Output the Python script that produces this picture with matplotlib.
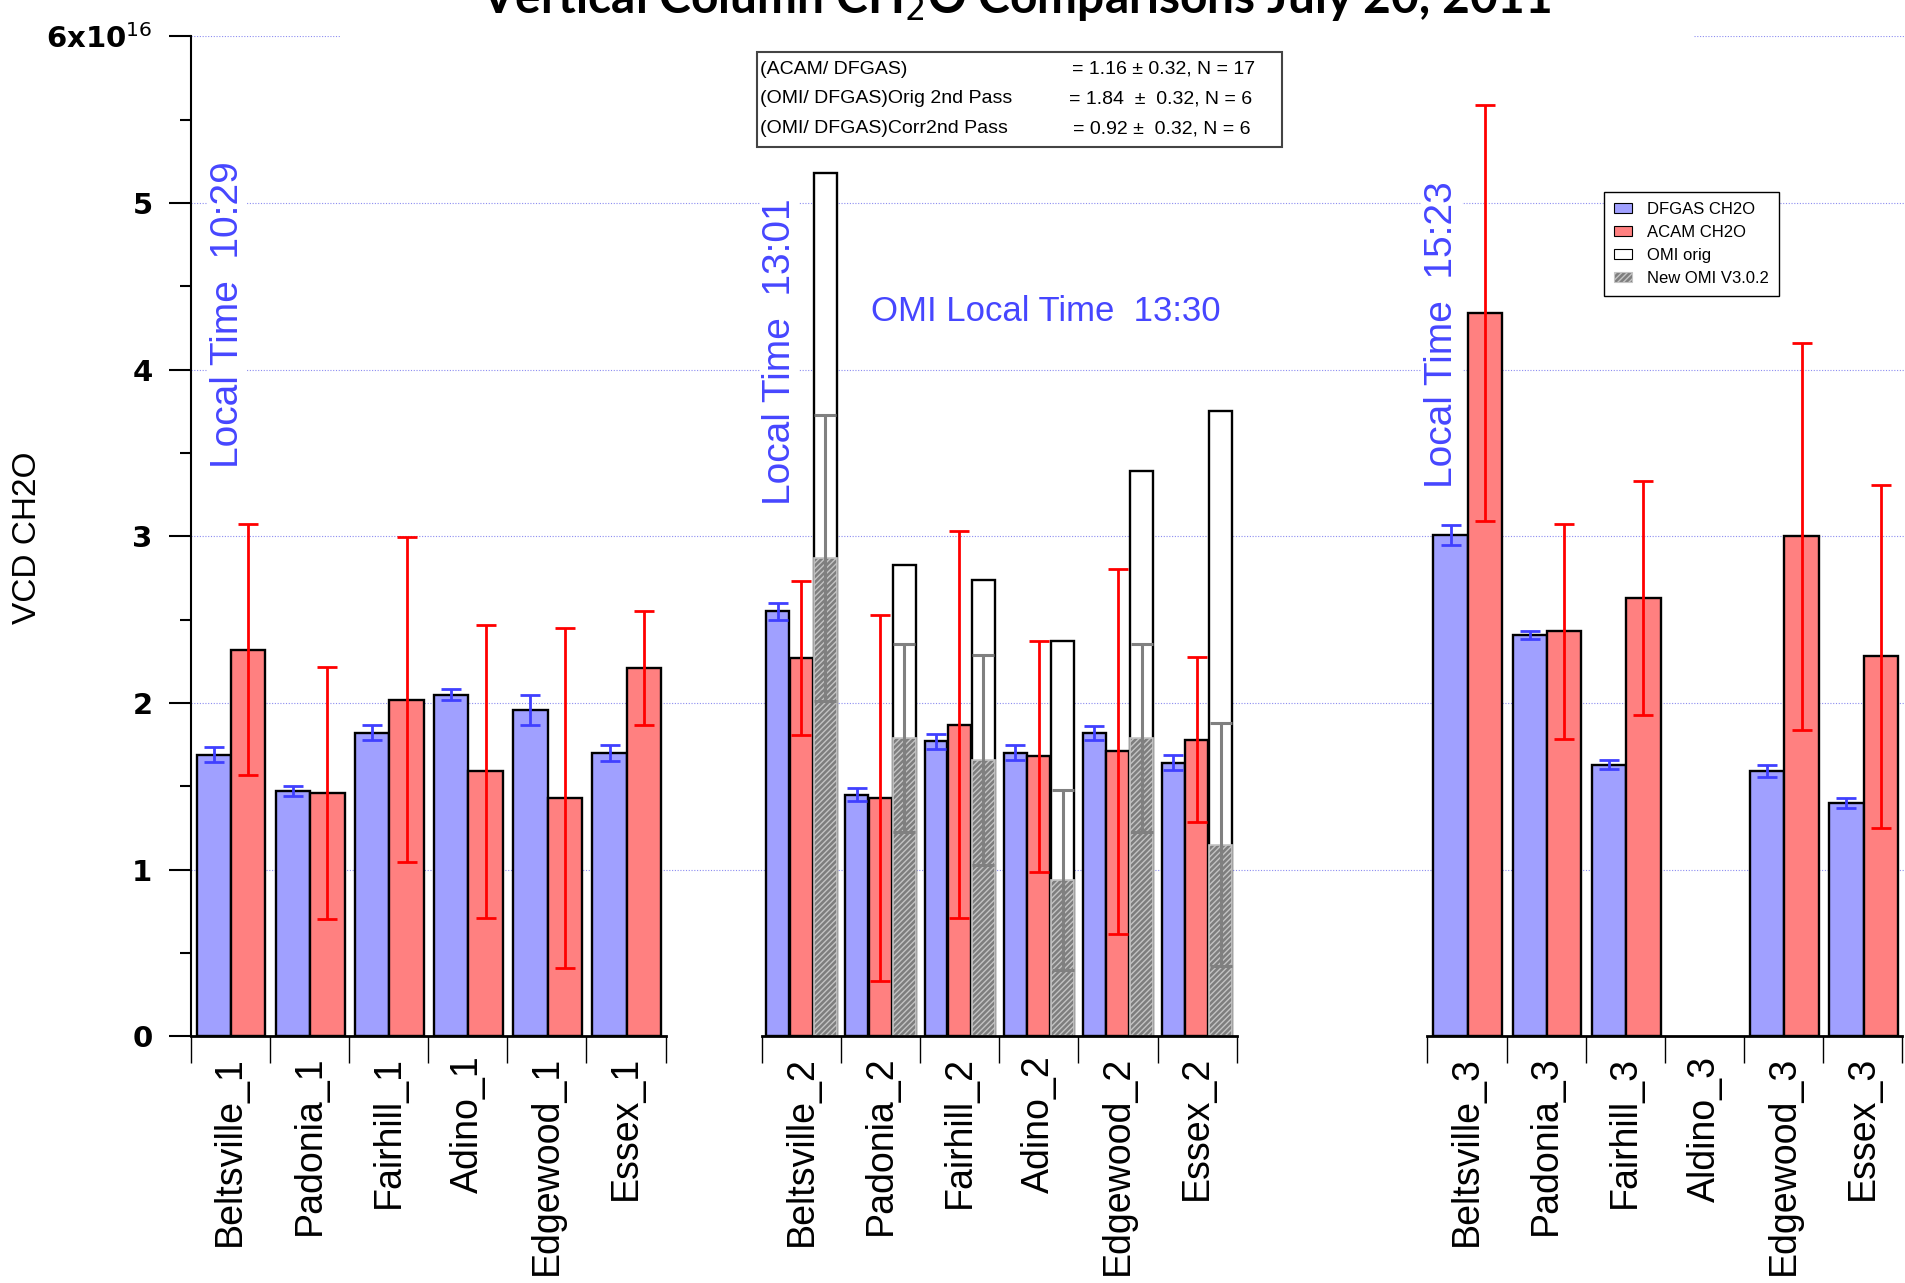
import numpy as np
import matplotlib
matplotlib.use("Agg")
import matplotlib.pyplot as plt
from matplotlib import font_manager
from matplotlib.patches import Patch, Rectangle

# site labels for the three overpass groups
sites_1 = ["Beltsville_1", "Padonia_1", "Fairhill_1", "Adino_1", "Edgewood_1", "Essex_1"]
sites_2 = ["Beltsville_2", "Padonia_2", "Fairhill_2", "Adino_2", "Edgewood_2", "Essex_2"]
sites_3 = ["Beltsville_3", "Padonia_3", "Fairhill_3", "Aldino_3", "Edgewood_3", "Essex_3"]

# VCD CH2O in units of 1e16 molec/cm2
dfgas_1 = [1.69, 1.47, 1.82, 2.05, 1.96, 1.70]
dfgas_1_err = [0.045, 0.03, 0.045, 0.035, 0.09, 0.05]
acam_1 = [2.32, 1.46, 2.02, 1.59, 1.43, 2.21]
acam_1_err = [0.755, 0.755, 0.975, 0.88, 1.02, 0.34]

dfgas_2 = [2.55, 1.45, 1.77, 1.70, 1.82, 1.64]
dfgas_2_err = [0.05, 0.04, 0.045, 0.045, 0.04, 0.045]
acam_2 = [2.27, 1.43, 1.87, 1.68, 1.71, 1.78]
acam_2_err = [0.46, 1.10, 1.16, 0.695, 1.095, 0.495]
omi_orig_2 = [5.18, 2.83, 2.74, 2.37, 3.39, 3.75]
omi_new_2 = [2.87, 1.79, 1.66, 0.94, 1.79, 1.15]
omi_new_2_err = [0.86, 0.565, 0.63, 0.54, 0.565, 0.73]

dfgas_3 = [3.01, 2.41, 1.63, np.nan, 1.59, 1.40]
dfgas_3_err = [0.06, 0.025, 0.026, np.nan, 0.037, 0.03]
acam_3 = [4.34, 2.43, 2.63, np.nan, 3.00, 2.28]
acam_3_err = [1.25, 0.645, 0.70, np.nan, 1.16, 1.03]

stats_names = ["(ACAM/ DFGAS)", "(OMI/ DFGAS)Orig 2nd Pass", "(OMI/ DFGAS)Corr2nd Pass"]
stats_values = ["= 1.16 \u00b1 0.32, N = 17", "= 1.84  \u00b1  0.32, N = 6", "= 0.92 \u00b1  0.32, N = 6"]

BLUE = "#a0a0ff"
RED = "#ff8080"
TXT_BLUE = "#4646ff"
GRID = "#8c8cf0"
HATCH_FACE = "#7e7e7e"
HATCH_EDGE = "#c4c4c4"

names = {f.name for f in font_manager.fontManager.ttflist}
HAVE_NARROW = "Liberation Sans Narrow" in names
NARROW = "Liberation Sans Narrow" if HAVE_NARROW else "Liberation Sans"

plt.rcParams["font.family"] = "Liberation Sans"
plt.rcParams["hatch.linewidth"] = 1.0

fig = plt.figure(figsize=(19.05, 12.83), dpi=100)
ax = fig.add_axes([0.1001, 0.1923, 0.8999, 0.7793])

starts = [0.0, 7.217, 15.626]
ERR = dict(fmt="none", elinewidth=2, capsize=7.5, capthick=2, zorder=4)


def pair_group(start, dfgas, dfgas_err, acam, acam_err):
    base = start + np.arange(6)
    w = 0.435
    ax.bar(base + 0.075, dfgas, w, align="edge", color=BLUE, edgecolor="black", lw=1.7, zorder=2)
    ax.bar(base + 0.51, acam, w, align="edge", color=RED, edgecolor="black", lw=1.7, zorder=2)
    ax.errorbar(base + 0.075 + w / 2, dfgas, yerr=dfgas_err, ecolor="#4040ff", **ERR)
    ax.errorbar(base + 0.51 + w / 2, acam, yerr=acam_err, ecolor="#ff0000", **ERR)


pair_group(starts[0], dfgas_1, dfgas_1_err, acam_1, acam_1_err)
pair_group(starts[2], dfgas_3, dfgas_3_err, acam_3, acam_3_err)

# middle pass also carries the OMI columns
base = starts[1] + np.arange(6)
w3 = 0.29
ax.bar(base + 0.055, dfgas_2, w3, align="edge", color=BLUE, edgecolor="black", lw=1.7, zorder=2)
ax.bar(base + 0.35, acam_2, w3, align="edge", color=RED, edgecolor="black", lw=1.7, zorder=2)
ax.bar(base + 0.655, omi_orig_2, w3, align="edge", color="white", edgecolor="black", lw=1.7, zorder=2)
ax.bar(base + 0.655, omi_new_2, w3, align="edge", color=HATCH_FACE, edgecolor=HATCH_EDGE,
       hatch="//////", lw=1.2, zorder=2.5)
ax.errorbar(base + 0.055 + w3 / 2, dfgas_2, yerr=dfgas_2_err, ecolor="#4040ff", **ERR)
ax.errorbar(base + 0.35 + w3 / 2, acam_2, yerr=acam_2_err, ecolor="#ff0000", **ERR)
ax.errorbar(base + 0.655 + w3 / 2, omi_new_2, yerr=omi_new_2_err, ecolor="#808080",
            fmt="none", elinewidth=2.2, capsize=8, capthick=2.2, zorder=3)

# axes
ax.set_xlim(0, 21.66)
ax.set_ylim(0, 6)
for side in ["top", "right", "bottom"]:
    ax.spines[side].set_visible(False)
ax.spines["left"].set_linewidth(1.5)

for s in starts:
    ax.plot([s, s + 6], [0, 0], color="black", lw=2, clip_on=False, zorder=5)

bounds = np.concatenate([s + np.arange(7) for s in starts])
centers = np.concatenate([s + 0.5 + np.arange(6) for s in starts])
ax.set_xticks(bounds)
ax.set_xticklabels([])
ax.set_xticks(centers, minor=True)
ax.set_xticklabels(sites_1 + sites_2 + sites_3, minor=True, rotation=90, fontsize=27)
ax.tick_params(axis="x", which="major", direction="out", length=19.5, width=1)
ax.tick_params(axis="x", which="minor", length=0, pad=14)

ax.set_yticks(range(7))
ax.set_yticklabels(["0", "1", "2", "3", "4", "5", "6x10$^{16}$"], fontfamily="DejaVu Sans",
                   fontweight="bold", fontsize=21)
ax.set_yticks(np.arange(0.5, 6, 1), minor=True)
ax.tick_params(axis="y", which="major", length=16, width=1.5, pad=11.5)
ax.tick_params(axis="y", which="minor", length=8, width=1.5)

# dotted horizontal grid
for lv in range(1, 6):
    ax.axhline(lv, color=GRID, lw=0.8, ls=(0, (1, 1.5)), zorder=0.5)
ax.axhline(6, xmin=0.0, xmax=0.087, color=GRID, lw=0.8, ls=(0, (1, 1.5)), zorder=0.5)
ax.axhline(6, xmin=0.877, xmax=1.0, color=GRID, lw=0.8, ls=(0, (1, 1.5)), zorder=0.5)

# local time annotations
box = dict(facecolor="white", edgecolor="none", pad=1)
ax.text(0.47, 4.33, "Local Time  10:29", rotation=90, ha="center", va="center",
        color=TXT_BLUE, fontsize=28, bbox=box, zorder=1)
ax.text(7.44, 4.11, "Local Time  13:01", rotation=90, ha="center", va="center",
        color=TXT_BLUE, fontsize=28, bbox=box, zorder=1)
ax.text(15.81, 4.21, "Local Time  15:23", rotation=90, ha="center", va="center",
        color=TXT_BLUE, fontsize=28, bbox=box, zorder=1)
ax.text(10.80, 4.35, "OMI Local Time  13:30", ha="center", va="center",
        color=TXT_BLUE, fontsize=29 if HAVE_NARROW else 25, family=NARROW, zorder=1)

fig.text(0.0142, 0.581, "VCD CH2O", rotation=90, ha="center", va="center", fontsize=24)

fig.text(0.5336, 1 - 13 / 1283, "Vertical Column CH$_2$O Comparisons July 20, 2011",
         ha="center", va="baseline", fontsize=34.5, fontweight="bold", family="Lato")

# ratio summary box
fig.add_artist(Rectangle((0.3974, 0.8854), 0.2756, 0.0741, transform=fig.transFigure,
                         facecolor="white", edgecolor="#444444", lw=1.5, zorder=3))
rows_y = [0.9462, 0.9232, 0.8995]
vals_x = [0.5627, 0.5612, 0.5633]
stat_size = 15 if HAVE_NARROW else 14
for name, val, y, vx in zip(stats_names, stats_values, rows_y, vals_x):
    fig.text(0.3990, y, name, ha="left", va="center", fontsize=stat_size, family=NARROW, zorder=4)
    fig.text(vx, y, val, ha="left", va="center", fontsize=stat_size, family=NARROW, zorder=4)

handles = [
    Patch(facecolor=BLUE, edgecolor="black", lw=0.8, label="DFGAS CH2O"),
    Patch(facecolor=RED, edgecolor="black", lw=0.8, label="ACAM CH2O"),
    Patch(facecolor="white", edgecolor="black", lw=0.8, label="OMI orig"),
    Patch(facecolor=HATCH_FACE, edgecolor=HATCH_EDGE, hatch="//////", lw=0.8, label="New OMI V3.0.2"),
]
leg = ax.legend(handles=handles, loc="upper left", bbox_to_anchor=(0.842, 0.8503),
                bbox_transform=fig.transFigure, borderaxespad=0, fancybox=False,
                edgecolor="black", framealpha=1, prop={"family": NARROW, "size": 12},
                handlelength=1.1, handleheight=0.55, labelspacing=0.47, handletextpad=0.9,
                borderpad=0.6)
leg.get_frame().set_linewidth(1)

fig.savefig("out.png", dpi=100)
